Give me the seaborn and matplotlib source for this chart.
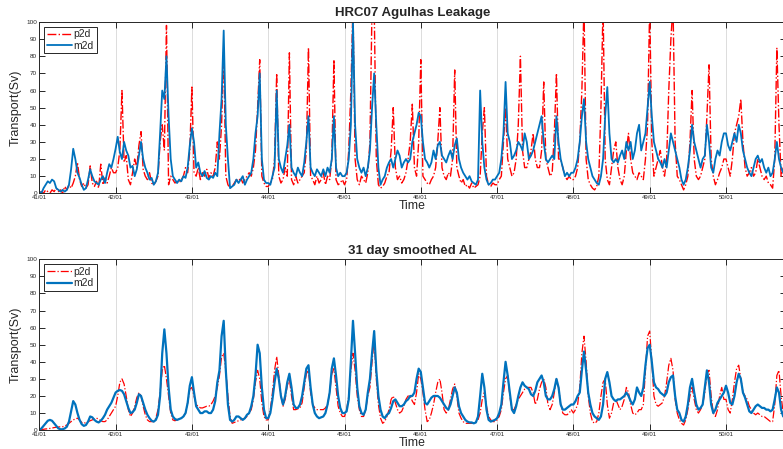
import numpy as np
import matplotlib
matplotlib.use("Agg")
import matplotlib.pyplot as plt
import seaborn as sns

# samples are ~10 days apart (36 per year), starting at 41/01
SAMPLES_PER_YEAR = 36
YEARS = list(range(41, 51))
TICK_LABELS = [f"{y}/01" for y in YEARS]

# --- daily AL (top panel), one row per model year ---
raw_p2d = [
    0, 1, 0, 2, 1, 0, 2, 1, 3, 1, 2, 0, 4, 2, 5, 3, 6, 10, 18, 8, 4, 6, 3, 5, 16, 6, 4, 7, 3, 17, 5, 9, 6, 10, 15, 12,
    12, 15, 25, 60, 18, 22, 8, 5, 12, 20, 15, 28, 36, 14, 10, 8, 12, 6, 5, 7, 10, 30, 40, 25, 98, 5, 10, 8, 6, 7, 6, 8, 10, 15, 12, 25,
    62, 12, 10, 15, 8, 12, 10, 14, 9, 12, 10, 15, 30, 20, 40, 85, 10, 5, 3, 4, 6, 8, 7, 9, 6, 8, 10, 12, 10, 15, 25, 50, 78, 10, 6, 4,
    4, 6, 8, 20, 70, 10, 6, 8, 15, 10, 82, 8, 5, 10, 6, 8, 10, 12, 25, 85, 10, 8, 5, 10, 6, 8, 12, 5, 10, 8, 20, 78, 8, 5, 6, 8,
    5, 8, 25, 60, 110, 20, 8, 5, 10, 8, 6, 12, 30, 110, 110, 20, 5, 3, 4, 6, 10, 12, 25, 50, 15, 8, 10, 6, 8, 12, 20, 30, 52, 15, 10, 30,
    78, 10, 8, 6, 5, 8, 10, 15, 30, 50, 15, 10, 8, 12, 10, 20, 72, 15, 10, 6, 8, 4, 5, 3, 6, 3, 4, 5, 10, 35, 50, 10, 5, 4, 6, 5,
    5, 8, 10, 30, 50, 20, 15, 10, 12, 20, 40, 80, 25, 15, 15, 20, 25, 35, 20, 15, 15, 25, 65, 20, 15, 10, 12, 35, 70, 20, 20, 15, 10, 8, 10, 8,
    8, 10, 15, 30, 60, 110, 20, 8, 5, 3, 2, 4, 10, 50, 110, 20, 8, 5, 15, 25, 30, 15, 8, 5, 10, 25, 35, 20, 12, 10, 8, 12, 10, 8, 20, 40,
    110, 30, 10, 15, 20, 25, 15, 10, 20, 60, 90, 110, 30, 10, 8, 5, 2, 5, 10, 30, 60, 20, 10, 8, 10, 15, 20, 45, 75, 20, 10, 5, 8, 12, 15, 20,
    20, 15, 10, 20, 35, 40, 45, 55, 30, 15, 10, 12, 15, 10, 12, 20, 15, 10, 8, 10, 6, 5, 3, 20, 85, 40, 10, 15,
]
raw_m2d = [
    1, 0, 3, 5, 7, 6, 8, 7, 3, 2, 1, 2, 1, 2, 5, 14, 26, 20, 12, 9, 5, 2, 3, 8, 14, 10, 7, 6, 5, 8, 10, 6, 12, 17, 15, 20,
    26, 33, 24, 20, 30, 25, 22, 15, 16, 10, 14, 22, 30, 20, 15, 12, 8, 9, 5, 7, 12, 35, 60, 55, 80, 45, 20, 10, 8, 6, 8, 7, 10, 9, 15, 28,
    38, 30, 15, 18, 12, 10, 13, 9, 8, 10, 9, 12, 10, 35, 55, 95, 40, 20, 3, 4, 5, 8, 6, 8, 10, 5, 8, 10, 12, 20, 35, 45, 70, 20, 8, 6,
    6, 5, 10, 15, 60, 20, 15, 12, 20, 28, 40, 15, 12, 10, 15, 12, 10, 18, 30, 45, 15, 12, 10, 14, 12, 10, 14, 10, 15, 12, 20, 45, 15, 10, 12, 10,
    10, 12, 20, 40, 100, 40, 20, 15, 12, 15, 10, 15, 25, 50, 70, 40, 15, 5, 8, 10, 15, 18, 20, 15, 20, 25, 22, 15, 18, 20, 18, 20, 30, 35, 40, 47,
    45, 30, 20, 18, 15, 18, 25, 20, 28, 30, 22, 20, 18, 22, 25, 20, 28, 32, 20, 15, 12, 10, 8, 10, 7, 6, 5, 8, 60, 30, 15, 8, 5, 6, 8, 8,
    10, 12, 20, 35, 65, 35, 30, 20, 22, 25, 30, 28, 25, 35, 30, 20, 22, 25, 30, 35, 40, 45, 30, 20, 18, 20, 22, 20, 45, 30, 20, 15, 10, 12, 10, 12,
    12, 15, 20, 30, 45, 55, 30, 20, 15, 10, 8, 6, 5, 10, 20, 45, 62, 35, 20, 18, 20, 18, 22, 25, 20, 30, 25, 30, 20, 25, 35, 40, 25, 30, 35, 50,
    65, 45, 30, 25, 20, 18, 15, 20, 15, 25, 35, 30, 25, 20, 15, 8, 5, 8, 15, 25, 40, 30, 25, 20, 15, 20, 22, 40, 30, 15, 12, 20, 25, 22, 30, 35,
    35, 28, 25, 30, 35, 30, 40, 35, 25, 20, 15, 12, 10, 15, 20, 22, 18, 20, 15, 12, 15, 10, 12, 20, 30, 20, 15, 12,
]

# --- 31 day smoothed AL (bottom panel) ---
smooth_p2d = [
    0, 0.3, 0.5, 0.7, 0.8, 1, 1.2, 1.5, 1.7, 1.8, 2, 2, 2.5, 3, 4, 5, 6, 6.5, 7, 6, 4.5, 4, 4.5, 5, 5.5, 6, 6.5, 7, 6.5, 5.5, 5, 5, 6, 8, 10, 12,
    14, 20, 28, 30, 27, 20, 12, 8, 10, 14, 19, 22, 20, 14, 9, 6, 5, 5, 5, 7, 12, 22, 35, 38, 30, 20, 10, 6, 5.5, 6, 6.5, 7, 8, 10, 16, 24,
    25, 20, 15, 14, 13, 13, 13.5, 14, 14, 15, 17, 20, 25, 32, 43, 45, 35, 20, 8, 4, 4.5, 5, 5.5, 6, 6.5, 7, 8, 10, 12, 18, 28, 35, 30, 16, 8, 6,
    6, 12, 22, 35, 43, 32, 20, 14, 18, 26, 30, 20, 12, 12, 12.5, 13, 16, 25, 33, 35, 22, 15, 13, 12, 12, 12, 12, 13, 15, 22, 33, 36, 25, 14, 10, 8,
    8, 12, 20, 35, 45, 35, 20, 12, 8, 8, 12, 20, 25, 40, 53, 30, 15, 7, 4, 5, 8, 12, 18, 20, 16, 12, 10, 11, 14, 18, 20, 20, 17, 15, 22, 33,
    30, 22, 12, 5, 6, 10, 15, 22, 28, 30, 22, 12, 10, 12, 18, 24, 27, 20, 10, 7, 5, 4, 4, 4, 4, 4.5, 5, 6, 10, 18, 22, 14, 8, 6, 5, 5,
    6, 8, 12, 22, 30, 32, 20, 12, 12, 15, 18, 20, 22, 24, 25, 25, 25, 22, 15, 18, 24, 28, 30, 25, 15, 12, 15, 22, 30, 25, 15, 10, 9, 9, 10, 12,
    10, 12, 15, 25, 45, 55, 40, 20, 10, 5, 4, 5, 10, 20, 28, 30, 15, 7, 10, 16, 18, 15, 12, 14, 18, 25, 22, 15, 10, 9, 10, 12, 12, 15, 35, 55,
    58, 40, 20, 15, 14, 15, 16, 20, 28, 38, 42, 35, 18, 10, 6, 4, 3, 6, 12, 20, 25, 18, 12, 10, 12, 15, 22, 33, 35, 20, 10, 8, 12, 20, 25, 18,
    18, 12, 10, 18, 28, 36, 38, 30, 22, 20, 18, 14, 12, 10, 9, 10, 9, 8, 8, 7, 6, 5, 5, 15, 32, 35, 20, 10,
]
smooth_m2d = [
    0, 1, 2.5, 4, 5.5, 6, 5.5, 4, 2.5, 1, 0.5, 0.5, 1, 2, 5, 11, 17, 15, 10, 6, 3.5, 2.5, 3, 5, 8, 7.5, 6, 5, 4.5, 5.5, 7, 9, 12, 14, 16, 19,
    22, 23, 23.5, 23, 21, 17, 13, 10, 10.5, 12, 16, 21, 20, 16, 12, 9, 7, 5.5, 5, 6, 9, 20, 45, 59, 45, 25, 12, 8, 6.5, 6, 6.5, 7, 8, 10, 16, 26,
    31, 22, 14, 12, 10, 10, 11, 11, 10, 10, 12, 17, 28, 35, 55, 64, 35, 15, 6, 5, 6, 8, 8, 7, 6, 7, 9, 10, 14, 20, 32, 50, 45, 25, 12, 7,
    7, 10, 18, 28, 36, 30, 20, 15, 20, 28, 33, 25, 15, 13, 13, 15, 20, 28, 36, 38, 25, 15, 10, 8, 7, 7.5, 8, 10, 15, 22, 36, 42, 32, 20, 13, 10,
    10, 11, 18, 40, 64, 45, 25, 14, 10, 9, 12, 22, 30, 45, 58, 35, 20, 12, 8, 7, 9, 10, 13, 17, 18, 16, 14, 14, 15, 17, 18, 20, 20, 22, 30, 36,
    34, 25, 16, 15, 17, 19, 20, 20, 20, 19, 17, 15, 13, 12, 15, 20, 25, 22, 14, 10, 8, 6, 5, 4.5, 4.5, 4, 4.5, 8, 20, 33, 25, 12, 6, 5, 5.5, 6,
    7, 10, 15, 28, 40, 32, 22, 12, 10, 14, 20, 25, 28, 26, 25, 24, 21, 20, 23, 28, 30, 32, 28, 20, 18, 18, 20, 24, 30, 25, 15, 12, 12, 13, 14, 15,
    15, 17, 20, 22, 35, 46, 35, 22, 15, 10, 8, 7, 6, 8, 15, 30, 34, 28, 20, 18, 17, 18, 18, 19, 20, 22, 20, 17, 15, 18, 25, 22, 20, 25, 38, 48,
    50, 40, 28, 25, 24, 22, 21, 20, 22, 28, 31, 32, 20, 12, 10, 6, 5, 8, 15, 25, 30, 22, 15, 12, 13, 15, 25, 35, 28, 15, 10, 12, 16, 18, 20, 22,
    26, 22, 16, 15, 20, 28, 33, 30, 22, 19, 15, 11, 10, 12, 14, 15, 14, 13, 13, 12, 12, 11, 12, 18, 25, 22, 12, 8,
]

RED = "#ff0000"
BLUE = "#0072bd"
AXIS_GREY = "#262626"

sns.set_theme(style="white")
plt.rcParams["font.family"] = ["Liberation Sans", "DejaVu Sans"]


def time_axis(values):
    return 41 + np.arange(len(values)) / SAMPLES_PER_YEAR


def style_axes(ax, title):
    ax.set_xlim(41, 50.78)
    ax.set_ylim(0, 100)
    ax.set_xticks(YEARS)
    ax.set_xticklabels(TICK_LABELS, fontsize=4.3)
    ax.set_yticks(range(0, 101, 10))
    ax.tick_params(axis="y", labelsize=4.6, pad=1.5)
    ax.tick_params(axis="x", pad=1.5)
    ax.tick_params(direction="in", length=4.3, width=0.7, color=AXIS_GREY,
                   top=True, right=True, bottom=True, left=True)
    ax.xaxis.grid(True, color="#dcdcdc", lw=0.7)
    ax.yaxis.grid(False)
    for sp in ax.spines.values():
        sp.set_color(AXIS_GREY)
        sp.set_linewidth(0.7)
    ax.set_title(title, fontsize=9.5, fontweight="bold", pad=4)
    ax.set_xlabel("Time", fontsize=8.8, labelpad=0)
    ax.set_ylabel("Transport(Sv)", fontsize=9, labelpad=3)
    leg = ax.legend(loc="upper left", fontsize=7.5, frameon=True, fancybox=False,
                    handlelength=2.4, handletextpad=0.2, labelspacing=0.15,
                    borderpad=0.25, borderaxespad=0.45, framealpha=1)
    leg.get_frame().set_edgecolor(AXIS_GREY)
    leg.get_frame().set_linewidth(0.7)


fig = plt.figure(figsize=(7.83, 4.49), dpi=100)
ax_top = fig.add_axes([0.0502, 0.5695, 0.953, 0.3815])
ax_bot = fig.add_axes([0.0502, 0.0420, 0.953, 0.3805])

sns.lineplot(x=time_axis(raw_p2d), y=raw_p2d, ax=ax_top, color=RED,
             linestyle="-.", lw=1.0, label="p2d", sort=False)
sns.lineplot(x=time_axis(raw_m2d), y=raw_m2d, ax=ax_top, color=BLUE,
             lw=1.3, label="m2d", sort=False)
style_axes(ax_top, "HRC07 Agulhas Leakage")

sns.lineplot(x=time_axis(smooth_p2d), y=smooth_p2d, ax=ax_bot, color=RED,
             linestyle="-.", lw=0.9, label="p2d", sort=False)
sns.lineplot(x=time_axis(smooth_m2d), y=smooth_m2d, ax=ax_bot, color=BLUE,
             lw=1.6, label="m2d", sort=False)
style_axes(ax_bot, "31 day smoothed AL")

fig.savefig("out.png", dpi=100)
plt.close(fig)
